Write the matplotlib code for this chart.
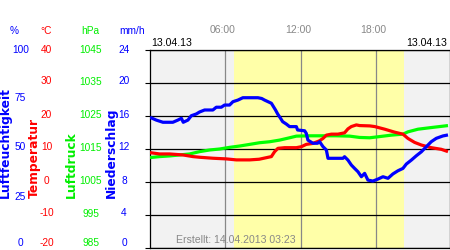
import matplotlib
matplotlib.use("Agg")
import matplotlib.pyplot as plt
import matplotlib.transforms as mtransforms

# Werte (Stunden seit 00:00)
hours_hum = [0.0, 0.5, 1.03, 1.82, 2.22, 2.5, 2.65, 3.02, 3.29, 3.69, 3.95, 4.35, 5.01,
             5.28, 5.68, 5.94, 6.34, 6.61, 7.0, 7.4, 8.6, 8.9, 9.13, 9.67, 10.0, 10.17,
             10.38, 10.57, 10.86, 11.12, 11.66, 11.76, 12.32, 12.45, 12.58, 12.98, 13.35,
             13.51, 13.78, 14.05, 14.18, 15.37, 15.5, 15.77, 16.04, 16.3, 16.57, 16.84,
             17.1, 17.36, 17.76, 18.16, 18.56, 18.96, 19.35, 19.75, 20.15, 20.42, 20.82,
             21.22, 21.62, 22.02, 22.41, 22.81, 23.34, 23.74]
humidity = [66.0, 64.6, 63.5, 63.5, 64.6, 65.5, 63.5, 64.6, 66.8, 67.7, 68.7, 69.7, 69.7,
            71.1, 71.1, 72.2, 72.2, 73.9, 74.7, 75.9, 75.9, 75.5, 74.7, 73.1, 69.7, 67.7,
            65.7, 63.8, 62.6, 61.3, 61.3, 59.6, 59.2, 57.9, 54.5, 52.9, 52.9,
            53.7, 51.2, 49.5, 45.3, 45.3, 46.1, 44.4, 41.9, 40.2, 38.5, 36.0,
            37.7, 34.3, 33.8, 34.8, 36.0, 35.2, 37.4, 39.0, 40.2, 42.4, 44.4,
            46.6, 48.6, 51.2, 53.7, 55.4, 56.6, 57.1]

hours_temp = [0.0, 0.76, 1.56, 2.62, 3.42, 3.95, 5.01, 6.08, 6.88, 7.94, 8.7, 9.67, 9.93,
              10.19, 10.73, 11.66, 12.06, 12.45, 12.98, 13.51, 13.78, 14.05, 14.45, 14.97,
              15.5, 15.77, 16.04, 16.44, 16.7, 17.5, 17.9, 18.7, 19.49, 20.15, 20.55,
              21.08, 21.62, 22.41, 23.21, 23.74]
temperature = [8.9, 8.5, 8.5, 8.2, 7.7, 7.5, 7.2, 7.0, 6.7, 6.7, 6.9, 7.7, 9.2,
               10.2, 10.4, 10.4, 10.7, 11.4, 11.7, 12.5, 13.2, 14.2, 14.5, 14.5,
               14.9, 16.1, 16.8, 17.3, 17.1, 17.0, 16.8, 16.0, 15.1, 14.5, 13.2,
               12.0, 11.2, 10.4, 9.9, 9.2]

hours_pres = [0.0, 0.76, 1.56, 2.36, 3.16, 3.95, 4.75, 5.55, 6.34, 7.14, 7.94, 8.73, 9.53,
              10.33, 11.12, 11.66, 12.72, 13.78, 14.84, 15.9, 16.7, 17.5, 18.16, 19.23,
              20.15, 20.55, 21.35, 22.41, 23.74]
pressure = [1012.4, 1012.7, 1012.9, 1013.2, 1013.5, 1014.2, 1014.7, 1015.0, 1015.5, 1015.9,
            1016.4, 1016.9, 1017.2, 1017.7, 1018.4, 1018.9, 1019.0, 1019.0, 1019.0, 1018.9,
            1018.5, 1018.4, 1018.7, 1019.2, 1019.5, 1020.2, 1021.0, 1021.5, 1022.1]

sunrise = 6.68
sunset = 20.23

hum_ticks = [0, 25, 50, 75, 100]
temp_ticks = [-20, -10, 0, 10, 20, 30, 40]
pres_ticks = [985, 995, 1005, 1015, 1025, 1035, 1045]
rain_ticks = [0, 4, 8, 12, 16, 20, 24]
time_ticks = [6, 12, 18]
time_labels = ["06:00", "12:00", "18:00"]

plt.rcParams['font.family'] = ['Liberation Sans', 'DejaVu Sans']

W, H = 450, 250
fig = plt.figure(figsize=(W / 100, H / 100), dpi=100)
ax = fig.add_axes([150 / W, 2 / H, 300 / W, 198 / H])

# Hintergrund: Nacht grau, Tag gelb
ax.set_facecolor('#f2f2f2')
ax.axvspan(sunrise, sunset, color='#ffffa8', lw=0, zorder=0)
ax.set_xlim(0, 23.9)
ax.set_ylim(-20, 40)
ax.set_yticks(temp_ticks)
ax.set_xticks([])
ax.tick_params(left=False, labelleft=False)
ax.grid(axis='y', color='black', lw=0.9)
for x in time_ticks:
    ax.axvline(x, color='#888888', lw=0.9, zorder=1)
for s in ax.spines.values():
    s.set_linewidth(0.9)

ax_p = ax.twinx()
ax_p.set_ylim(pres_ticks[0], pres_ticks[-1])
ax_t = ax.twinx()
ax_t.set_ylim(temp_ticks[0], temp_ticks[-1])
ax_h = ax.twinx()
ax_h.set_ylim(0, 100)
ax_r = ax.twinx()
ax_r.set_ylim(rain_ticks[0], rain_ticks[-1])
for a in (ax_p, ax_t, ax_h, ax_r):
    a.set_yticks([])
    a.set_xlim(0, 23.9)
    for s in a.spines.values():
        s.set_visible(False)

ax_p.plot(hours_pres, pressure, color='#00ff00', lw=2.3, solid_capstyle='butt')
ax_t.plot(hours_temp, temperature, color='#ff0000', lw=2.3, solid_capstyle='butt')
ax_h.plot(hours_hum, humidity, color='#0000ff', lw=2.3, solid_capstyle='butt')

# Skalen links
columns = [
    (ax_h, hum_ticks, 20.5, '#0000ff', '%', 14),
    (ax_t, temp_ticks, 46.5, '#ff0000', '°C', 46.5),
    (ax_p, pres_ticks, 91, '#00ee00', 'hPa', 90),
    (ax_r, rain_ticks, 124, '#0000ff', 'mm/h', 132),
]
for axis, ticks, xc, col, unit, ux in columns:
    trans = mtransforms.blended_transform_factory(fig.transFigure, axis.transData)
    lift = trans + mtransforms.ScaledTranslation(0, 0.015, fig.dpi_scale_trans)
    for v in ticks:
        lbl = str(v)
        if v == ticks[0]:
            fig.text(xc / W, v, lbl, transform=trans, ha='center', va='bottom',
                     color=col, fontsize=7.3)
        elif v == ticks[-1]:
            fig.text(xc / W, v, lbl, transform=trans, ha='center', va='center',
                     color=col, fontsize=7.3)
        else:
            fig.text(xc / W, v, lbl, transform=lift, ha='center', va='center',
                     color=col, fontsize=7.3)
    fig.text(ux / W, 1 - 30.5 / H, unit, ha='center', va='center', color=col, fontsize=7.3)

# gedrehte Achsentitel
titles = [("Luftfeuchtigkeit", 8.5, '#0000ff'), ("Temperatur", 38, '#ff0000'),
          ("Luftdruck", 75, '#00ee00'), ("Niederschlag", 114.5, '#0000ff')]
for txt, xb, col in titles:
    fig.text(xb / W, 1 - 198 / H, txt, rotation=90, rotation_mode='anchor',
             ha='left', va='baseline', color=col, fontsize=8.8,
             fontweight='bold', family='DejaVu Sans')

# Zeiten oben
for x, lbl in zip(time_ticks, time_labels):
    tr = mtransforms.blended_transform_factory(ax.transData, fig.transFigure)
    fig.text(x - 0.2, 1 - 29.7 / H, lbl, transform=tr, ha='center', va='center',
             color='#888888', fontsize=7.5)

fig.text(151 / W, 1 - 43.3 / H, "13.04.13", ha='left', va='center', color='black', fontsize=7.6)
fig.text(447 / W, 1 - 43.3 / H, "13.04.13", ha='right', va='center', color='black', fontsize=7.6)
fig.text(236 / W, 1 - 240.3 / H, "Erstellt: 14.04.2013 03:23", ha='center', va='center',
         color='#888888', fontsize=7.6)

fig.savefig("out.png", dpi=100)
